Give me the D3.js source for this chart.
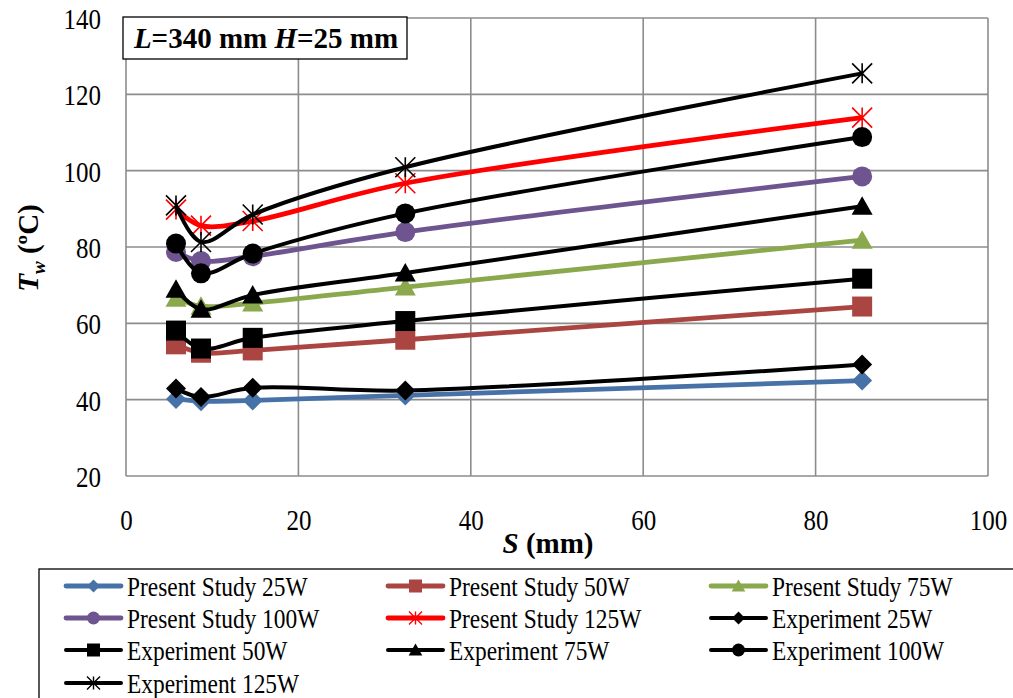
<!DOCTYPE html>
<html>
<head>
<meta charset="utf-8">
<script src="https://cdn.jsdelivr.net/npm/d3@7"></script>
<style>
  html, body { margin: 0; padding: 0; background: #fff; }
  svg { display: block; }
  svg text { font-family: "Liberation Serif", "Times New Roman", serif; fill: #000; }
</style>
</head>
<body>
<svg id="chart" width="1013" height="698"></svg>
<script>
// Fin spacing S (mm) at which wall temperature was evaluated
const spacing = [5.8, 8.7, 14.7, 32.4, 85.4];

// Wall temperature T_w (ºC) for each heat input
const present25  = [40.2, 39.6, 39.8, 41.1, 45.0];
const present50  = [54.5, 52.3, 52.9, 55.7, 64.4];
const present75  = [66.6, 64.5, 65.3, 69.5, 81.8];
const present100 = [78.7, 76.3, 77.6, 83.9, 98.5];
const present125 = [89.8, 85.6, 86.8, 96.7, 113.9];
const exp25  = [42.9, 40.7, 43.1, 42.4, 49.2];
const exp50  = [58.1, 53.4, 56.2, 60.6, 71.7];
const exp75  = [68.9, 63.7, 67.4, 73.2, 90.7];
const exp100 = [80.9, 73.1, 78.3, 88.8, 108.8];
const exp125 = [90.9, 81.3, 88.5, 100.9, 125.5];

const xTicks = [0, 20, 40, 60, 80, 100];
const yTicks = [20, 40, 60, 80, 100, 120, 140];

const seriesNames = [
  "Present Study 25W", "Present Study 50W", "Present Study 75W",
  "Present Study 100W", "Present Study 125W", "Experiment 25W",
  "Experiment 50W", "Experiment 75W", "Experiment 100W", "Experiment 125W"
];
const seriesValues = [present25, present50, present75, present100, present125,
                      exp25, exp50, exp75, exp100, exp125];
const seriesColors = ["#4772A8", "#AA4541", "#8AA84C", "#6E5590", "#FF0000",
                      "#000000", "#000000", "#000000", "#000000", "#000000"];
const seriesMarkers = ["diamond", "square", "triangle", "circle", "asterisk",
                       "diamond", "square", "triangle", "circle", "asterisk"];

const series = seriesNames.map((name, i) => ({
  name,
  color: seriesColors[i],
  marker: seriesMarkers[i],
  points: spacing.map((s, j) => ({ s, t: seriesValues[i][j] }))
}));

// Text in this figure is drawn slightly taller than wide
const TEXT_STRETCH = 1.18;
function stretchText(sel, k) {
  sel.each(function () {
    const t = d3.select(this);
    const tx = +t.attr("x") || 0, ty = +t.attr("y") || 0;
    t.attr("x", 0).attr("y", 0)
      .attr("transform", `translate(${tx},${ty}) scale(1,${k})`);
  });
}

const svg = d3.select("#chart");
const plot = { left: 126, right: 988, top: 18, bottom: 476 };

const x = d3.scaleLinear().domain([0, 100]).range([plot.left, plot.right]);
const y = d3.scaleLinear().domain([20, 140]).range([plot.bottom, plot.top]);

// Gridlines
const grid = svg.append("g").attr("stroke", "#8c8c8c").attr("stroke-width", 1.6);
xTicks.forEach(v => grid.append("line")
  .attr("x1", x(v)).attr("x2", x(v)).attr("y1", plot.top).attr("y2", plot.bottom));
yTicks.forEach(v => grid.append("line")
  .attr("x1", plot.left).attr("x2", plot.right).attr("y1", y(v)).attr("y2", y(v)));

// Axes (tick labels only; lines come from the grid)
const xAxis = svg.append("g")
  .attr("transform", `translate(0,${plot.bottom})`)
  .call(d3.axisBottom(x).tickValues(xTicks).tickSize(0));
const yAxis = svg.append("g")
  .attr("transform", `translate(${plot.left},0)`)
  .call(d3.axisLeft(y).tickValues(yTicks).tickSize(0));
[xAxis, yAxis].forEach(a => {
  a.attr("font-family", null).attr("font-size", null);
  a.select(".domain").remove();
  a.selectAll("text")
    .style("font-family", "'Liberation Serif', 'Times New Roman', serif")
    .style("font-size", "25px").attr("fill", "#000").attr("dy", "0.35em");
});
xAxis.selectAll("text").attr("x", 0).attr("y", 44);
yAxis.selectAll("text").attr("x", -25).attr("y", 0);
stretchText(xAxis.selectAll("text"), TEXT_STRETCH);
stretchText(yAxis.selectAll("text"), TEXT_STRETCH);

// Marker shapes
function markerPath(type, r) {
  switch (type) {
    case "diamond":
      return `M0,${-r}L${r},0L0,${r}L${-r},0Z`;
    case "square":
      return `M${-r},${-r}H${r}V${r}H${-r}Z`;
    case "triangle":
      return `M0,${-r}L${r * 1.05},${r * 0.85}L${-r * 1.05},${r * 0.85}Z`;
    case "circle":
      return d3.symbol(d3.symbolCircle, Math.PI * r * r)();
    case "asterisk":
      return `M${-r},${-r}L${r},${r}M${-r},${r}L${r},${-r}M0,${-r}V${r}`;
  }
}

const line = d3.line()
  .x(d => x(d.s))
  .y(d => y(d.t))
  .curve(d3.curveCatmullRom.alpha(0.5));

const groups = svg.append("g").selectAll("g.series")
  .data(series).join("g").attr("class", "series");

groups.append("path")
  .attr("d", d => line(d.points))
  .attr("fill", "none")
  .attr("stroke", d => d.color)
  .attr("stroke-width", d => d.color === "#000000" ? 4 : 4.8)
  .attr("stroke-linejoin", "round");

groups.each(function (d) {
  const g = d3.select(this);
  const isStar = d.marker === "asterisk";
  g.selectAll("path.mk").data(d.points).join("path")
    .attr("class", "mk")
    .attr("transform", p => `translate(${x(p.s)},${y(p.t)})`)
    .attr("d", markerPath(d.marker, 10))
    .attr("fill", isStar ? "none" : d.color)
    .attr("stroke", d.color)
    .attr("stroke-width", isStar ? 1.6 : 0);
});

// Annotation box
const ann = svg.append("g");
ann.append("rect")
  .attr("x", 123).attr("y", 17).attr("width", 284).attr("height", 42)
  .attr("fill", "#fff").attr("stroke", "#000").attr("stroke-width", 1.3);
const annText = ann.append("text")
  .attr("x", 266).attr("y", 48).attr("text-anchor", "middle")
  .style("font-size", "29px").attr("font-weight", "bold");
annText.append("tspan").attr("font-style", "italic").text("L");
annText.append("tspan").text("=340 mm ");
annText.append("tspan").attr("font-style", "italic").text("H");
annText.append("tspan").text("=25 mm");

// Axis titles
const xTitle = svg.append("text")
  .attr("x", 548).attr("y", 553).attr("text-anchor", "middle")
  .style("font-size", "29px").attr("font-weight", "bold");
xTitle.append("tspan").attr("font-style", "italic").text("S");
xTitle.append("tspan").text(" (mm)");

const yTitle = svg.append("text")
  .attr("transform", "translate(38,248) rotate(-90)")
  .attr("text-anchor", "middle")
  .style("font-size", "29px").attr("font-weight", "bold");
yTitle.append("tspan").attr("font-style", "italic").text("T");
yTitle.append("tspan").attr("font-style", "italic").style("font-size", "19px").attr("dy", 7).text("w");
yTitle.append("tspan").attr("dy", -7).text(" (ºC)");

// Legend
const legend = svg.append("g");
legend.append("rect")
  .attr("x", 39).attr("y", 569).attr("width", 1000).attr("height", 140)
  .attr("fill", "#fff").attr("stroke", "#000").attr("stroke-width", 1.3);
const colX = [66, 388, 711];
const rowY = [586, 618, 650, 683];
series.forEach((d, i) => {
  const cx = colX[i % 3], cy = rowY[Math.floor(i / 3)];
  const item = legend.append("g").attr("transform", `translate(${cx},${cy})`);
  item.append("line").attr("x1", 0).attr("x2", 55)
    .attr("stroke", d.color).attr("stroke-width", d.color === "#000000" ? 4 : 4.8)
    .attr("stroke-linecap", "round");
  const isStar = d.marker === "asterisk";
  item.append("path")
    .attr("transform", "translate(27.5,0)")
    .attr("d", markerPath(d.marker, 6.5))
    .attr("fill", isStar ? "none" : d.color)
    .attr("stroke", d.color)
    .attr("stroke-width", isStar ? 1.4 : 0);
  const label = item.append("text").attr("x", 61).attr("y", 0).attr("dy", "0.35em")
    .style("font-size", "23.4px").text(d.name);
  stretchText(label, TEXT_STRETCH);
});
</script>
</body>
</html>
